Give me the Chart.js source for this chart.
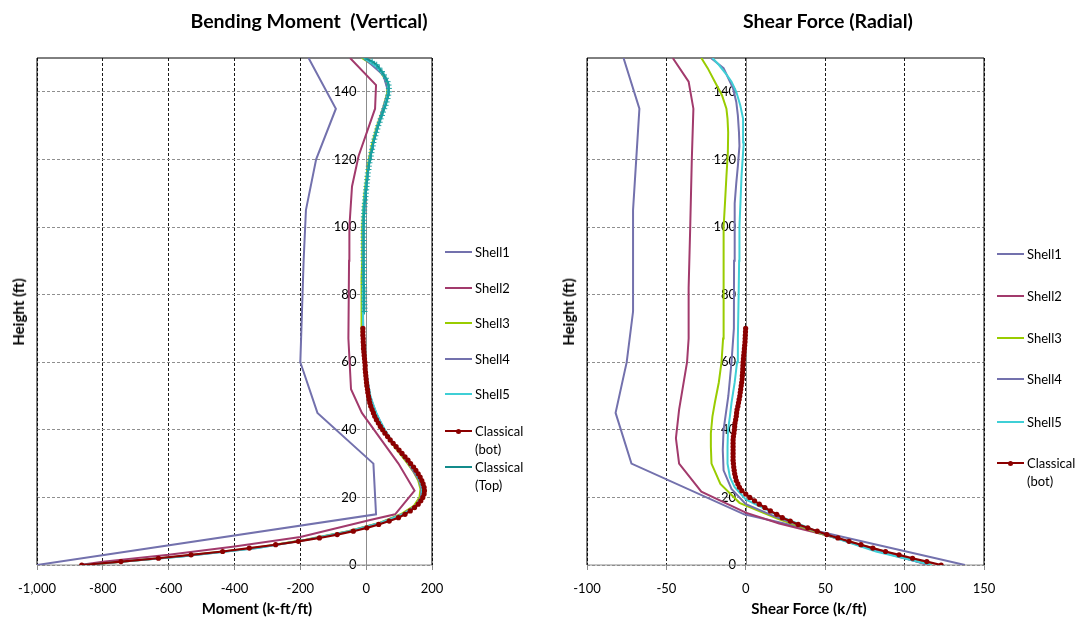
<!DOCTYPE html>
<html>
<head>
<meta charset="utf-8">
<script src="https://cdn.jsdelivr.net/npm/chart.js@4/dist/chart.umd.min.js"></script>
<style>
  html, body { margin: 0; padding: 0; background: #fff; }
  #wrap { position: relative; width: 1078px; height: 619px; font-family: Lato, "Open Sans", sans-serif; color: #000; }
  canvas { position: absolute; top: 0; }
  .txt { position: absolute; white-space: nowrap; transform: translate(-50%, -50%); }
  .title { font-weight: bold; font-size: 19.5px; }
  .axis { font-weight: bold; font-size: 15px; }
  .rot { transform: translate(-50%, -50%) rotate(-90deg); }
  .leg { position: absolute; font-size: 13px; line-height: 18px; }
  .legline { position: absolute; height: 2px; }
  .legdot { position: absolute; width: 5px; height: 5px; border-radius: 50%; }
</style>
</head>
<body>
<div id="wrap">
  <canvas id="bm" width="540" height="619" style="left:0"></canvas>
  <canvas id="sf" width="538" height="619" style="left:540px"></canvas>
  <div class="txt title" style="left:309px; top:20px">Bending Moment&nbsp; (Vertical)</div>
  <div class="txt title" style="left:828px; top:20px">Shear Force (Radial)</div>
  <div class="txt axis" style="left:257px; top:608px">Moment (k-ft/ft)</div>
  <div class="txt axis" style="left:809px; top:608px">Shear Force (k/ft)</div>
  <div class="txt axis rot" style="left:18px; top:312px">Height (ft)</div>
  <div class="txt axis rot" style="left:568px; top:312px">Height (ft)</div>
</div>
<script>
// ---- Bending moment (k-ft/ft) vs height (ft) ----
const bmShell1H = [0, 15, 30, 45, 60, 75, 90, 105, 120, 135, 150];
const bmShell1 = [-1000, 30, 22, -148, -200, -195, -190, -183, -152, -92, -175];

const bmShell2H = [0, 1, 3, 5.5, 8.3, 13.3, 15, 22, 30, 45, 52, 67, 90, 100, 112, 121, 135, 142, 150];
const bmShell2 = [-870, -800, -600, -400, -200, 12, 88, 147, 98, -13, -46, -54, -52, -51, -43, -23, 27, 30, -49];

const bmShell3H = [0, 2.5, 5, 7.5, 10, 12.5, 15, 17.5, 20, 22.5, 25, 27.5, 30, 32.5, 35, 37.5, 40, 42.5, 45, 47.5, 50, 55, 60, 65, 70, 75, 80, 85, 90, 95, 100, 105, 110, 115, 120, 125, 130, 135, 140, 142.5, 145, 147.5, 150];
const bmShell3 = [-850, -570, -340, -185, -55, 42, 105, 145, 162, 165, 158, 144, 126, 106, 86, 68, 52, 38, 27, 18, 10, 0, -6, -11, -14, -15, -14, -13, -12, -12, -12, -9, -5, 1, 8, 19, 33, 51, 65, 64, 50, 27, -13];

const bmShell4H = [0, 2.5, 5, 7.5, 10, 12.5, 15, 17.5, 20, 22.5, 25, 30, 35, 40, 45, 50, 60, 70, 80, 90, 100, 110, 120, 130, 140, 145, 150];
const bmShell4 = [-858, -562, -332, -181, -52, 44, 110, 150, 166, 168, 161, 129, 89, 55, 30, 12, -4, -9, -10, -9, -9, -3, 10, 35, 67, 52, -7];

const bmShell5H = [0, 2.5, 5, 7.5, 10, 12.5, 15, 17.5, 20, 22.5, 25, 27.5, 30, 32.5, 35, 37.5, 40, 42.5, 45, 47.5, 50, 55, 60, 65, 70, 75, 80, 85, 90, 95, 100, 105, 110, 115, 120, 125, 130, 135, 140, 142.5, 145, 147.5, 150];
const bmShell5 = [-860, -560, -330, -180, -50, 45, 112, 152, 168, 170, 163, 149, 131, 111, 91, 73, 57, 43, 31, 21, 13, 3, -3, -7, -9, -10, -10, -9, -9, -9, -9, -7, -3, 3, 11, 22, 36, 54, 68, 67, 53, 30, -6];

const classicalBotH = [
  0, 1, 2, 3, 4, 5, 6, 7, 8, 9,
  10, 11, 12, 13, 14, 15, 16, 17, 18, 19,
  20, 21, 22, 23, 24, 25, 26, 27, 28, 29,
  30, 31, 32, 33, 34, 35, 36, 37, 38, 39,
  40, 41, 42, 43, 44, 45, 46, 47, 48, 49,
  50, 51, 52, 53, 54, 55, 56, 57, 58, 59,
  60, 61, 62, 63, 64, 65, 66, 67, 68, 69,
  70];
const bmClassicalBot = [
  -864, -745, -631, -532, -436, -355, -275, -206, -142, -88,
  -39, 2, 38, 70, 98, 118, 134, 147, 158, 166,
  172, 176, 177, 176, 173, 169, 164, 158, 151, 144,
  135, 127, 118, 109, 100, 91, 82, 73, 65, 57,
  50, 43, 37, 31, 26, 22, 18, 14, 11, 9,
  7, 5, 4, 2, 1, 0, -1, -2, -3, -3,
  -4, -5, -6, -7, -8, -8, -9, -9, -10, -10,
  -10];

const classicalTopH = [
  75, 76, 77, 78, 79, 80, 81, 82, 83, 84,
  85, 86, 87, 88, 89, 90, 91, 92, 93, 94,
  95, 96, 97, 98, 99, 100, 101, 102, 103, 104,
  105, 106, 107, 108, 109, 110, 111, 112, 113, 114,
  115, 116, 117, 118, 119, 120, 121, 122, 123, 124,
  125, 126, 127, 128, 129, 130, 131, 132, 133, 134,
  135, 136, 137, 138, 139, 140, 141, 142, 143, 144,
  145, 146, 147, 148, 149, 150];
const bmClassicalTop = [
  -5, -5, -5, -6, -6, -6, -6, -6, -7, -7,
  -7, -7, -7, -7, -7, -8, -8, -8, -8, -8,
  -8, -8, -8, -8, -8, -8, -7, -7, -7, -6,
  -6, -5, -4, -3, -2, -1, 0, 1, 2, 3,
  4, 5, 7, 8, 10, 12, 14, 16, 18, 20,
  22, 25, 28, 31, 34, 37, 41, 44, 48, 51,
  55, 59, 62, 65, 67, 69, 69, 68, 65, 60,
  54, 48, 40, 32, 18, -3];

// ---- Shear force (k/ft) vs height (ft) ----
const sfShell1H = [0, 15, 30, 45, 60, 75, 90, 105, 120, 135, 150];
const sfShell1 = [138, -1, -72, -82, -75, -71, -71, -71, -69, -67, -77];

const sfShell2H = [0, 9, 12.3, 15.5, 21.7, 30, 37.5, 46, 60, 67, 82, 100, 120, 135, 143, 150];
const sfShell2 = [115, 49, 21, 0, -28, -42, -44, -42, -37, -36, -36, -35, -34, -33, -36, -46];

const sfShell3H = [0, 5, 9, 13.5, 18.4, 24, 30, 35, 39, 44, 48, 54, 60, 67, 80, 90, 100, 108, 115, 122, 128, 132, 135, 139, 143, 147, 150];
const sfShell3 = [117, 80, 49, 21, -4, -16, -21.6, -22, -22, -21, -19.5, -17, -15.3, -14.3, -14, -14, -13.9, -13, -12.2, -11.3, -11.1, -11.5, -12.2, -15, -19.5, -24, -28];

const sfShell4H = [0, 4, 9, 14, 18, 22.5, 28, 34, 40, 45, 50, 55, 60, 70, 90, 107, 113, 118, 124, 128, 133, 137, 141, 144, 147, 150];
const sfShell4 = [116, 84, 50, 20, 0, -9, -14, -14.5, -14, -12.5, -11, -10, -9, -7.5, -7.4, -7, -6, -5, -4, -4.3, -5, -6, -8, -11, -14, -22];

const sfShell5H = [0, 4, 9, 14.5, 19.4, 23, 26, 30, 35, 40, 44, 48, 54, 60, 67, 80, 90, 100, 108, 115, 120, 125, 132, 136, 140, 143, 145, 148, 150];
const sfShell5 = [117, 82, 50, 21, 0, -7, -10, -11.5, -11.5, -11.2, -10, -9, -7, -5.5, -5, -4.5, -4.2, -4, -3.3, -2.7, -2, -1.3, -1.7, -3.5, -6, -9, -12, -17, -21];

const sfClassicalBot = [
  123, 114, 105, 96.5, 88, 80, 72.5, 65, 58, 51,
  45, 39, 33, 28, 23, 19.5, 15.5, 12, 8.5, 5.5,
  2.5, 0, -2.5, -4, -5, -6, -6.5, -7, -7.3, -7.6,
  -7.8, -8, -8, -8, -8, -8, -8, -8, -7.8, -7.5,
  -7.2, -7, -6.8, -6.4, -6, -5.8, -5.5, -5, -4.6, -4.2,
  -3.8, -3.5, -3.2, -2.9, -2.6, -2.3, -2.2, -2, -1.9, -1.8,
  -1.7, -1.5, -1.3, -1.1, -0.9, -0.7, -0.5, -0.4, -0.3, -0.2,
  -0.1];

const bmTicks = { min: -1000, max: 200, step: 200 };
const sfTicks = { min: -100, max: 150, step: 50 };
const heightTicks = { min: 0, max: 150, step: 20 };

const purple = "#7371ad";
const maroon = "#a23a6c";
const green = "#99cc00";
const cyan = "#3fcfd6";
const darkRed = "#8b0000";
const teal = "#138b8b";

Chart.defaults.font.family = "Lato, 'Open Sans', sans-serif";
Chart.defaults.font.size = 13;
Chart.defaults.color = "#000";

function serie(label, color, hs, vs, extra) {
  return Object.assign({
    label: label,
    data: hs.map((h, i) => ({ x: vs[i], y: h })),
    borderColor: color,
    backgroundColor: color,
    showLine: true,
    borderWidth: 2,
    pointRadius: 0,
    pointHoverRadius: 0,
    tension: 0
  }, extra || {});
}

const dotMarks = { pointStyle: "circle", pointRadius: 2.6, borderWidth: 2.2, pointBorderWidth: 0 };
const plusMarks = { pointStyle: "cross", pointRadius: 3, pointBorderWidth: 1, pointBorderColor: "#1aa3a3" };

// plot frame and zero axis lines
const cadre = {
  id: "cadre",
  beforeDatasetsDraw(chart) {
    const { ctx, chartArea: a, scales } = chart;
    const x0 = Math.round(scales.x.getPixelForValue(0)) + 0.5;
    ctx.save();
    ctx.lineWidth = 1;
    ctx.strokeStyle = "#8c8c8c";
    ctx.beginPath();
    ctx.moveTo(x0, a.top);
    ctx.lineTo(x0, a.bottom);
    ctx.moveTo(a.left, a.bottom);
    ctx.lineTo(a.right, a.bottom);
    ctx.stroke();
    ctx.strokeStyle = "#000";
    ctx.beginPath();
    ctx.moveTo(a.left, a.bottom);
    ctx.lineTo(a.left, a.top);
    ctx.lineTo(a.right, a.top);
    ctx.lineTo(a.right, a.bottom);
    ctx.stroke();
    ctx.restore();
  }
};

function grafik(id, datasets, xt, pad) {
  // later series on top, like the original
  datasets.forEach((d, i) => { d.order = datasets.length - i; });
  return new Chart(document.getElementById(id), {
    type: "scatter",
    data: { datasets: datasets },
    options: {
      responsive: false,
      animation: false,
      events: [],
      layout: { padding: pad },
      plugins: { legend: { display: false }, tooltip: { enabled: false } },
      scales: {
        x: {
          type: "linear",
          position: "bottom",
          min: xt.min,
          max: xt.max,
          afterFit: s => { s.height = 40; },
          ticks: { stepSize: xt.step, padding: 11, maxRotation: 0 },
          grid: { color: "#1a1a1a", tickColor: "#8c8c8c", tickLength: 5 },
          border: { display: false, dash: [3, 2] }
        },
        y: {
          type: "linear",
          position: { x: 0 },
          min: heightTicks.min,
          max: heightTicks.max,
          ticks: {
            stepSize: heightTicks.step,
            includeBounds: false,
            // labels sit left of the zero axis with a gap
            callback: v => v + "\u2003"
          },
          grid: { color: "#8f8f8f", drawTicks: false },
          border: { display: false, dash: [3, 2] }
        }
      }
    },
    plugins: [cadre]
  });
}

const bmSets = [
  serie("Shell1", purple, bmShell1H, bmShell1),
  serie("Shell2", maroon, bmShell2H, bmShell2),
  serie("Shell3", green, bmShell3H, bmShell3),
  serie("Shell4", purple, bmShell4H, bmShell4),
  serie("Shell5", cyan, bmShell5H, bmShell5),
  serie("Classical\n(bot)", darkRed, classicalBotH, bmClassicalBot, dotMarks),
  serie("Classical\n(Top)", teal, classicalTopH, bmClassicalTop, plusMarks)
];

const sfSets = [
  serie("Shell1", purple, sfShell1H, sfShell1),
  serie("Shell2", maroon, sfShell2H, sfShell2),
  serie("Shell3", green, sfShell3H, sfShell3),
  serie("Shell4", purple, sfShell4H, sfShell4),
  serie("Shell5", cyan, sfShell5H, sfShell5),
  serie("Classical\n(bot)", darkRed, classicalBotH, sfClassicalBot, dotMarks)
];

grafik("bm", bmSets, bmTicks, { left: 37, right: 108, top: 58, bottom: 14 });
grafik("sf", sfSets, sfTicks, { left: 47, right: 94, top: 58, bottom: 14 });

// legends (html)
function lejant(sets, x, ys) {
  const wrap = document.getElementById("wrap");
  sets.forEach((d, i) => {
    const y = ys[i];
    const ln = document.createElement("div");
    ln.className = "legline";
    ln.style.left = x + "px";
    ln.style.top = (y - 1) + "px";
    ln.style.width = "27px";
    ln.style.background = d.borderColor;
    wrap.appendChild(ln);
    if (d.pointStyle === "circle") {
      const dot = document.createElement("div");
      dot.className = "legdot";
      dot.style.left = (x + 11) + "px";
      dot.style.top = (y - 2.5) + "px";
      dot.style.background = d.borderColor;
      wrap.appendChild(dot);
    }
    const t = document.createElement("div");
    t.className = "leg";
    t.style.left = (x + 30) + "px";
    t.style.top = (y - 9) + "px";
    t.innerHTML = d.label.replace("\n", "<br>");
    wrap.appendChild(t);
  });
}
lejant(bmSets, 445, [252, 288, 323, 359, 394, 431, 467]);
lejant(sfSets, 997, [254, 296, 338, 379, 422, 463]);
</script>
</body>
</html>
